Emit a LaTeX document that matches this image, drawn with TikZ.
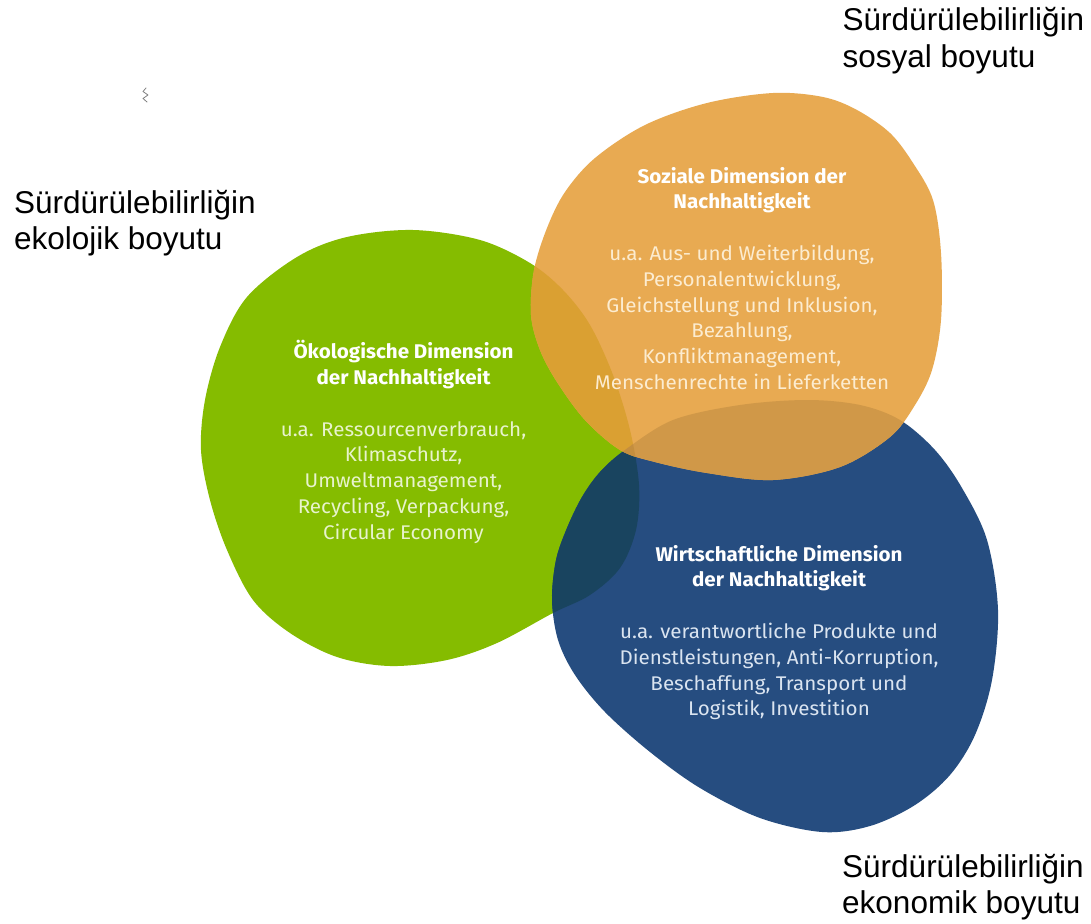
\documentclass[tikz,border=0pt]{standalone}
\usepackage{fontspec}
\newfontfamily\blobfont[FakeStretch=1.04]{Fira Sans}
\newfontfamily\lblfont{Liberation Sans}
\definecolor{cgreen}{RGB}{133,188,0}
\definecolor{corange}{RGB}{232,170,82}
\definecolor{cblue}{RGB}{38,77,128}
\definecolor{cGO}{RGB}{218,160,50}
\definecolor{cOB}{RGB}{208,152,72}
\definecolor{cGB}{RGB}{25,68,95}
\definecolor{cGOB}{RGB}{196,142,62}
\definecolor{tgreen}{RGB}{232,243,205}
\definecolor{torange}{RGB}{252,236,208}
\definecolor{tblue}{RGB}{218,228,240}
\newcommand\GreenBlob[1]{\path[#1] plot[smooth cycle,tension=0.55] coordinates{
(413,230) (480,240) (530,263) (563,290) (590,325) (613,375) (630,430) (639,485)
(636,530) (620,568) (590,595) (553,613) (497,643) (447,660) (390,666) (337,657)
(290,633) (253,600) (227,550) (210,500) (201,450) (205,400) (220,347) (247,297)
(297,257) (347,237)};}
\newcommand\OrangeBlob[1]{\path[#1] plot[smooth cycle,tension=0.55] coordinates{
(707,103) (773,93) (823,97) (857,110) (890,133) (913,163) (933,200) (941,253)
(941,320) (932,370) (915,405) (890,437) (840,467) (773,480) (707,473) (655,462)
(620,450) (585,420) (557,382) (540,350) (531,315) (534,270) (547,228) (565,192)
(595,158) (645,125)};}
\newcommand\BlueBlob[1]{\path[#1] plot[smooth cycle,tension=0.55] coordinates{
(625,450) (673,420) (740,405) (807,400) (860,405) (900,420) (935,450) (962,488)
(987,540) (998,610) (992,680) (975,735) (950,775) (915,805) (870,826) (822,832)
(760,818) (700,788) (650,752) (605,712) (575,675) (558,640) (552,600) (556,560)
(567,528) (582,497) (600,472)};}
\tikzset{
  blobtext/.style={inner sep=0pt, align=center, font=\blobfont\fontsize{19.8}{25.8}\selectfont},
  lbltext/.style={inner sep=0pt, anchor=base west, text=black, font=\lblfont\fontsize{31.5}{36.5}\selectfont}
}
\newcommand\twolines[2]{\vtop{\baselineskip=36.5pt\hbox{#1}\hbox{#2}}}
\begin{document}
\begin{tikzpicture}[x=1pt,y=-1pt]
\useasboundingbox[fill=white] (0,0) rectangle (1091,923);
% blobs
\GreenBlob{fill=cgreen}
\BlueBlob{fill=cblue}
\OrangeBlob{fill=corange}
\begin{scope}\GreenBlob{clip}\BlueBlob{fill=cGB}\end{scope}
\begin{scope}\GreenBlob{clip}\OrangeBlob{fill=cGO}\end{scope}
\begin{scope}\OrangeBlob{clip}\BlueBlob{fill=cOB}\end{scope}
\begin{scope}\GreenBlob{clip}\OrangeBlob{clip}\BlueBlob{fill=cGOB}\end{scope}
% small mark
\draw[gray, line width=0.8pt, line cap=round, line join=round] (146,88) -- (143,91.5) -- (148,95) -- (143,98.5) -- (147,102);
% blob texts
\node[blobtext, text=tgreen] (eco) at (403.5,442) {{\bfseries\color{white}Ökologische Dimension}\\{\bfseries\color{white}der Nachhaltigkeit}\\[25.8pt]u.a. Ressourcenverbrauch,\\Klimaschutz,\\Umweltmanagement,\\Recycling, Verpackung,\\Circular Economy};
\node[blobtext, text=torange] (soc) at (742,278.4) {{\bfseries\color{white}Soziale Dimension der}\\{\bfseries\color{white}Nachhaltigkeit}\\[25.8pt]u.a. Aus- und Weiterbildung,\\Personalentwicklung,\\Gleichstellung und Inklusion,\\Bezahlung,\\Konfliktmanagement,\\Menschenrechte in Lieferketten};
\node[blobtext, text=tblue] (wir) at (779,632.5) {{\bfseries\color{white}Wirtschaftliche Dimension}\\{\bfseries\color{white}der Nachhaltigkeit}\\[25.8pt]u.a. verantwortliche Produkte und\\Dienstleistungen, Anti-Korruption,\\Beschaffung, Transport und\\Logistik, Investition};
% labels
\node[lbltext] (lblEco) at (14,213.3) {\twolines{Sürdürülebilirliğin}{ekolojik boyutu}};
\node[lbltext] (lblSoc) at (842.5,30.7) {\twolines{Sürdürülebilirliğin}{sosyal boyutu}};
\node[lbltext] (lblEko) at (842,877.3) {\twolines{Sürdürülebilirliğin}{ekonomik boyutu}};
\end{tikzpicture}
\end{document}
